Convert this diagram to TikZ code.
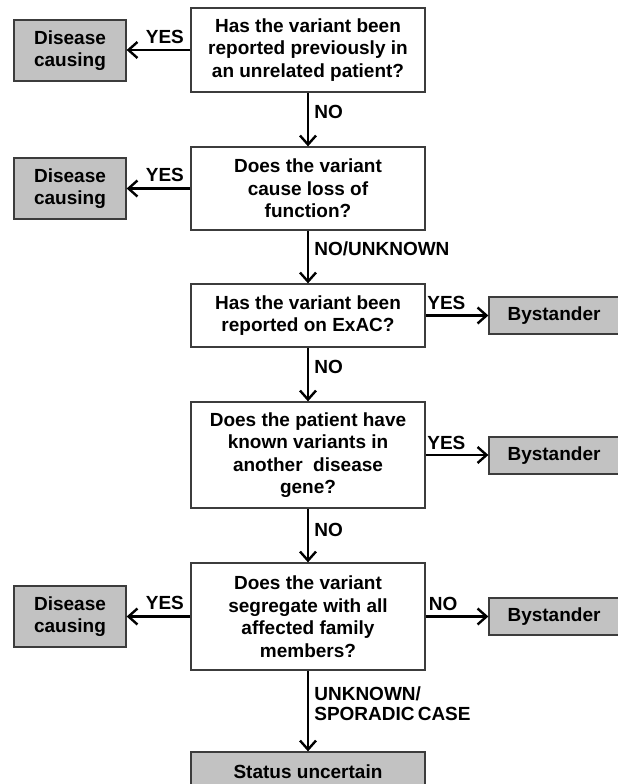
\documentclass[tikz,border=0pt]{standalone}
\usepackage{fontspec}
\setmainfont{Liberation Sans}
\usetikzlibrary{arrows.meta}
\definecolor{boxgray}{RGB}{194,194,194}
\definecolor{edgegray}{RGB}{60,60,60}
\begin{document}
\begin{tikzpicture}[x=1pt,y=-1pt,
  txt/.style={align=center, font=\fontsize{19}{22.5}\selectfont\bfseries, inner sep=0pt},
  qbox/.style={txt, draw=edgegray, line width=1.3pt, fill=white, minimum width=234pt},
  gbox/.style={txt, draw=edgegray, line width=1.3pt, fill=boxgray},
  arr/.style={line width=2.7pt, -{Straight Barb[length=9pt,width=16pt,line width=2.4pt]}},
  lbl/.style={font=\fontsize{19}{20}\selectfont\bfseries, inner sep=0pt, align=left}
]
\useasboundingbox (0,0) rectangle (618,784);
\clip (0,0) rectangle (618,784);
\fill[white] (0,0) rectangle (618,784);

% question boxes
\node[qbox, minimum height=84pt] (q1) at (308,50) {Has the variant been\\reported previously in\\an unrelated patient?};
\node[qbox, minimum height=83pt] (q2) at (308,188.5) {Does the variant\\cause loss of\\function?};
\node[qbox, minimum height=63pt] (q3) at (308,315.5) {Has the variant been\\reported on ExAC?};
\node[qbox, minimum height=106pt] (q4) at (308,455) {Does the patient have\\known variants in\\another\ \ disease\\gene?};
\node[qbox, minimum height=107pt] (q5) at (308,616.5) {Does the variant\\segregate with all\\affected family\\members?};
\node[gbox, minimum width=234pt, minimum height=40pt] (st) at (308,772) {Status uncertain};

% outcome boxes
\node[gbox, minimum width=112pt, minimum height=61pt] (dc1) at (70,50.5) {Disease\\causing};
\node[gbox, minimum width=112pt, minimum height=61pt] (dc2) at (70,188.5) {Disease\\causing};
\node[gbox, minimum width=112pt, minimum height=61pt] (dc3) at (70,616.5) {Disease\\causing};
\node[gbox, minimum width=130pt, minimum height=37pt] (by1) at (554,315.5) {Bystander};
\node[gbox, minimum width=130pt, minimum height=37pt] (by2) at (554,455.5) {Bystander};
\node[gbox, minimum width=130pt, minimum height=37pt] (by3) at (554,616.5) {Bystander};

% horizontal connectors
\draw[arr] (q1.west) -- (q1.west -| dc1.east) node[lbl, pos=0.4, above=5pt] {YES};
\draw[arr] (q2.west) -- (q2.west -| dc2.east) node[lbl, pos=0.4, above=5pt] {YES};
\draw[arr] (q5.west) -- (q5.west -| dc3.east) node[lbl, pos=0.4, above=5pt] {YES};
\draw[arr] (q3.east) -- (q3.east -| by1.west) node[lbl, pos=0.33, above=4pt] {YES};
\draw[arr] (q4.east) -- (q4.east -| by2.west) node[lbl, pos=0.33, above=4pt] {YES};
\draw[arr] (q5.east) -- (q5.east -| by3.west) node[lbl, pos=0.28, above=4pt] {NO};

% vertical connectors
\draw[arr] (q1.south) -- (q2.north) node[lbl, pos=0.36, right=5pt] {NO};
\draw[arr] (q2.south) -- (q3.north) node[lbl, pos=0.35, right=5pt] {NO/UNKNOWN};
\draw[arr] (q3.south) -- (q4.north) node[lbl, pos=0.36, right=5pt] {NO};
\draw[arr] (q4.south) -- (q5.north) node[lbl, pos=0.4, right=5pt] {NO};
\draw[arr] (q5.south) -- (st.north) node[lbl, pos=0.41, right=5pt] {UNKNOWN/\\SPORADIC\,CASE};
\end{tikzpicture}
\end{document}
